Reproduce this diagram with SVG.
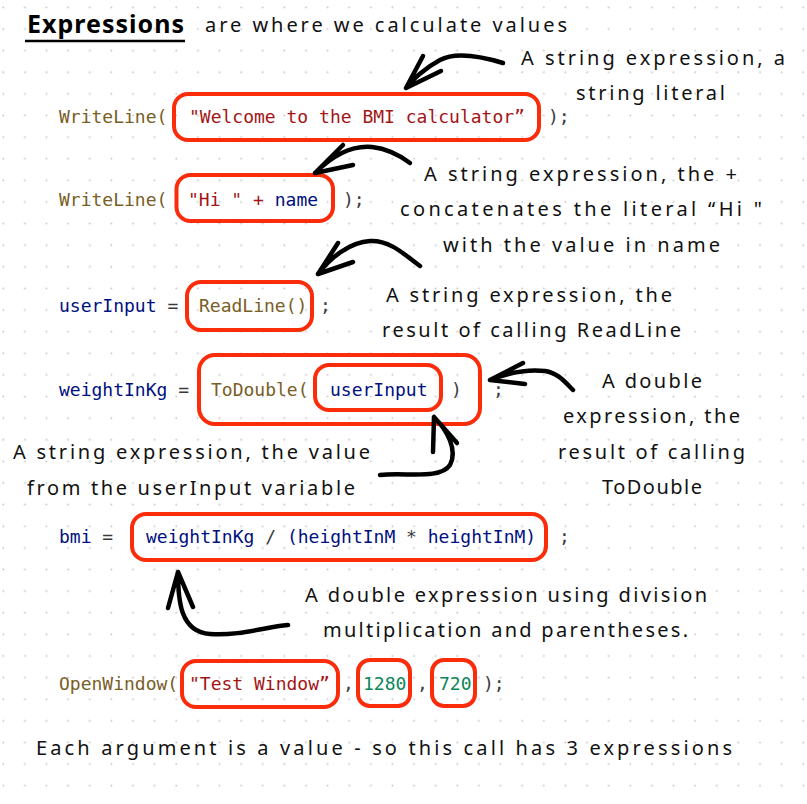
<svg xmlns="http://www.w3.org/2000/svg" width="807" height="804" viewBox="0 0 807 804">
<defs>
<pattern id="dots" x="0" y="0" width="21.62" height="21.62" patternUnits="userSpaceOnUse">
<circle cx="3.3" cy="7.3" r="1" fill="#c9c9c9"/>
</pattern>
<style>
.code{font-family:"DejaVu Sans Mono",monospace;font-size:18px;}
.fn{fill:#795E26;}
.str{fill:#A31515;}
.id{fill:#001080;}
.num{fill:#098658;}
.pn{fill:#3b3b3b;}
.box{fill:none;stroke:#fa2c0a;stroke-width:4;}
.hand{font-family:"Noto Sans","Lato",sans-serif;font-size:20px;fill:#111;}
.arr{fill:none;stroke:#000;stroke-width:4.5;stroke-linecap:round;stroke-linejoin:round;}
</style>
</defs>
<rect width="807" height="804" fill="#ffffff"/>
<rect width="807" height="804" fill="url(#dots)"/>

<g id="title">
<text x="27" y="33" font-family="Noto Sans,Lato,sans-serif" font-size="25" font-weight="bold" fill="#000" textLength="157" lengthAdjust="spacing">Expressions</text>
<line x1="25" y1="41" x2="185" y2="41" stroke="#000" stroke-width="2.5"/>
<text class="hand" x="205" y="32" textLength="362" lengthAdjust="spacing">are where we calculate values</text>
</g>

<g id="row-writeline-welcome">
<rect class="box" x="174" y="94" width="365" height="46" rx="14"/>
<text class="code fn" x="59" y="123">WriteLine(</text>
<text class="code str" x="189" y="123">"Welcome to the BMI calculator”</text>
<text class="code pn" x="548" y="123">);</text>
</g>

<g id="row-writeline-hi">
<rect class="box" x="176.5" y="175" width="156.5" height="46" rx="14"/>
<text class="code fn" x="59" y="206">WriteLine(</text>
<text class="code" x="188" y="206" xml:space="preserve"><tspan class="str">"Hi " + </tspan><tspan class="id">name</tspan></text>
<text class="code pn" x="343" y="206">);</text>
</g>

<g id="row-readline">
<rect class="box" x="187" y="282" width="125" height="48" rx="14"/>
<text class="code" x="59" y="312" xml:space="preserve"><tspan class="id">userInput</tspan><tspan class="pn"> = </tspan></text>
<text class="code fn" x="199" y="312">ReadLine()</text>
<text class="code pn" x="320" y="312">;</text>
</g>

<g id="row-todouble">
<rect class="box" x="199" y="355" width="281" height="69" rx="16"/>
<rect class="box" x="315" y="365" width="126" height="45" rx="14"/>
<text class="code" x="59" y="396" xml:space="preserve"><tspan class="id">weightInKg</tspan><tspan class="pn"> = </tspan></text>
<text class="code fn" x="211" y="396">ToDouble(</text>
<text class="code id" x="330" y="396">userInput</text>
<text class="code pn" x="451" y="396">)</text>
<text class="code pn" x="493" y="396">;</text>
</g>

<g id="row-bmi">
<rect class="box" x="132" y="514" width="414" height="46" rx="14"/>
<text class="code" x="59" y="543" xml:space="preserve"><tspan class="id">bmi</tspan><tspan class="pn"> =</tspan></text>
<text class="code" x="146" y="543" xml:space="preserve"><tspan class="id">weightInKg</tspan><tspan class="pn"> / </tspan><tspan class="id">(heightInM</tspan><tspan class="pn"> * </tspan><tspan class="id">heightInM)</tspan></text>
<text class="code pn" x="559" y="543">;</text>
</g>

<g id="row-openwindow">
<rect class="box" x="182" y="661" width="156" height="46" rx="14"/>
<rect class="box" x="358" y="660" width="52" height="46" rx="12"/>
<rect class="box" x="432" y="660" width="43" height="46" rx="12"/>
<text class="code fn" x="59" y="690">OpenWindow(</text>
<text class="code str" x="189" y="690">"Test Window”</text>
<text class="code pn" x="343" y="690">,</text>
<text class="code num" x="363" y="690">1280</text>
<text class="code pn" x="417" y="690">,</text>
<text class="code num" x="439" y="690">720</text>
<text class="code pn" x="483" y="690">);</text>
</g>

<g id="note-welcome">
<text class="hand" x="521" y="65" textLength="264" lengthAdjust="spacing">A string expression, a</text>
<text class="hand" x="576" y="100" textLength="149" lengthAdjust="spacing">string literal</text>
</g>
<g id="note-hi">
<text class="hand" x="424" y="181" textLength="313" lengthAdjust="spacing">A string expression, the +</text>
<text class="hand" x="400" y="216" textLength="362" lengthAdjust="spacing">concatenates the literal “Hi "</text>
<text class="hand" x="443" y="252" textLength="277" lengthAdjust="spacing">with the value in name</text>
</g>
<g id="note-readline">
<text class="hand" x="386" y="302" textLength="286" lengthAdjust="spacing">A string expression, the</text>
<text class="hand" x="382" y="337" textLength="299" lengthAdjust="spacing">result of calling ReadLine</text>
</g>
<g id="note-todouble">
<text class="hand" x="602" y="388" textLength="100" lengthAdjust="spacing">A double</text>
<text class="hand" x="563" y="423" textLength="177" lengthAdjust="spacing">expression, the</text>
<text class="hand" x="558" y="459" textLength="187" lengthAdjust="spacing">result of calling</text>
<text class="hand" x="602" y="494" textLength="100" lengthAdjust="spacing">ToDouble</text>
</g>
<g id="note-userinput">
<text class="hand" x="13" y="459" textLength="357" lengthAdjust="spacing">A string expression, the value</text>
<text class="hand" x="27" y="495" textLength="328" lengthAdjust="spacing">from the userInput variable</text>
</g>
<g id="note-bmi">
<text class="hand" x="305" y="602" textLength="402" lengthAdjust="spacing">A double expression using division</text>
<text class="hand" x="323" y="637" textLength="365" lengthAdjust="spacing">multiplication and parentheses.</text>
</g>
<g id="note-bottom">
<text class="hand" x="36" y="755" font-size="21" textLength="696" lengthAdjust="spacing">Each argument is a value - so this call has 3 expressions</text>
</g>

<g id="connectors">
<path class="arr" d="M503,63 C480,56 455,52 440,60 C425,68 412,80 406,88 M406,88 L423,56 M406,88 L441,71"/>
<path class="arr" d="M410,163 C402,157 390,149 372,147 C350,145 330,158 315,173 M315,173 L343,145 M315,173 L353,165"/>
<path class="arr" d="M420,266 C405,255 390,240 370,241 C350,242 330,258 318,274 M318,274 L338,243 M318,274 L353,262"/>
<path class="arr" d="M573,390 C565,382 558,373 545,371 C525,369 505,374 490,380 M490,380 L523,363 M490,380 L525,384"/>
<path class="arr" d="M380,475 C405,472 440,480 450,465 C458,450 447,430 434,417 M434,417 L433,452 M434,417 L457,443"/>
<path class="arr" d="M288,625 C265,627 240,636 210,634 C180,632 178,600 178,572 M178,572 L168,608 M178,572 L193,607"/>
</g>
</svg>
